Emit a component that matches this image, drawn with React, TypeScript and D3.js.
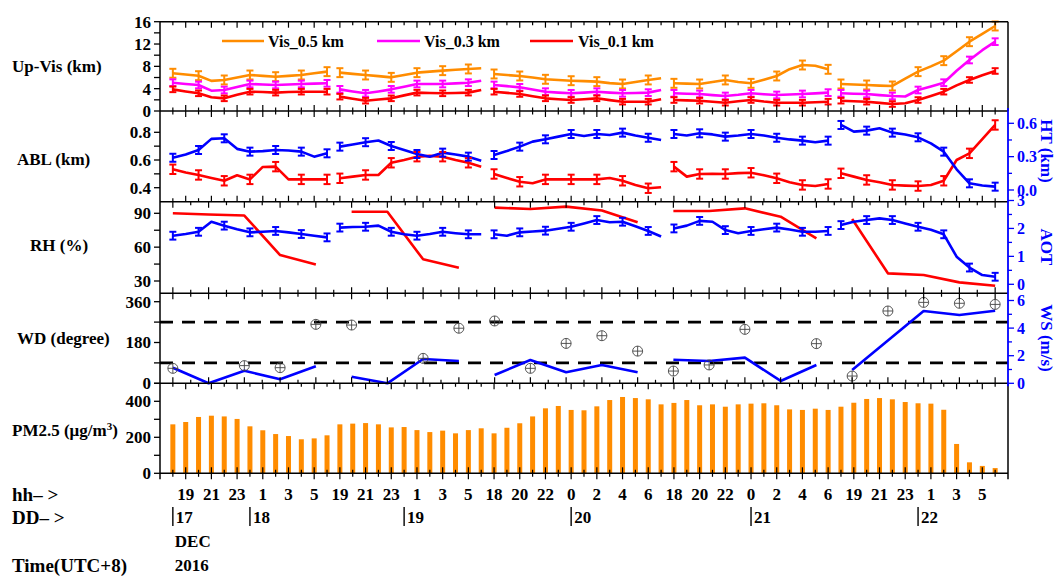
import React from 'react';
import * as d3 from 'd3';

// ---------------- DATA ----------------
// hourly slots 0..64 (five nights)
const nights: [number, number][] = [[0, 12], [13, 24], [25, 38], [39, 51], [52, 64]];
// 3-hourly points 0..23 (RH, WD, WS)
const kNights: [number, number][] = [[0, 4], [5, 8], [9, 13], [14, 18], [19, 23]];

const vis05 = [
  6.76, 6.55, 6.33, 5.4, 5.56, 6.0, 6.45, 6.3, 6.15, 6.3, 6.45, 6.75, 7.05,
  6.87, 6.65, 6.45, 6.25, 6.03, 6.45, 6.87, 7.05, 7.23, 7.4, 7.53, 7.65,
  6.63, 6.45, 6.27, 6.0, 5.68, 5.55, 5.43, 5.35, 5.26, 5.0, 4.84, 5.2, 5.56, 5.86,
  4.96, 4.9, 4.84, 5.2, 5.56, 5.2, 4.96, 5.6, 6.27, 7.5, 8.24, 8.1, 7.47,
  4.84, 4.75, 4.66, 4.55, 4.48, 5.8, 7.05, 8.0, 9.02, 10.7, 12.42, 13.8, 15.23,
];
const vis03 = [
  5.07, 4.85, 4.66, 3.64, 3.76, 4.3, 4.84, 4.75, 4.66, 4.75, 4.84, 4.9, 4.96,
  3.88, 3.5, 3.17, 3.5, 3.88, 4.35, 4.84, 4.84, 4.84, 4.95, 5.07, 5.43,
  4.66, 4.45, 4.24, 3.85, 3.46, 3.3, 3.17, 3.3, 3.46, 3.3, 3.17, 3.23, 3.29, 3.76,
  3.17, 3.1, 3.05, 2.85, 2.69, 2.9, 3.17, 3.0, 2.87, 2.95, 3.05, 3.15, 3.29,
  3.17, 3.1, 3.05, 2.85, 2.69, 2.6, 3.76, 4.4, 5.07, 7.2, 9.14, 10.9, 12.42,
];
const vis01 = [
  3.88, 3.5, 3.17, 2.45, 2.27, 2.9, 3.46, 3.4, 3.29, 3.4, 3.46, 3.46, 3.46,
  2.57, 2.2, 1.85, 2.05, 2.27, 2.8, 3.29, 3.23, 3.17, 3.23, 3.29, 3.76,
  3.46, 3.25, 3.05, 2.65, 2.27, 2.1, 1.97, 2.1, 2.27, 1.95, 1.67, 1.67, 1.67, 2.09,
  1.97, 1.9, 1.85, 1.65, 1.49, 1.75, 1.97, 1.7, 1.49, 1.49, 1.49, 1.58, 1.67,
  1.85, 1.75, 1.67, 1.45, 1.25, 1.4, 1.97, 2.7, 3.46, 4.6, 5.56, 6.4, 7.17,
];
const visErr = [0.8, 0.6, 0.5];

const abl = [
  0.533, 0.51, 0.492, 0.47, 0.45, 0.49, 0.46, 0.55, 0.552, 0.46, 0.46, 0.46, 0.46,
  0.468, 0.48, 0.492, 0.492, 0.58, 0.6, 0.624, 0.63, 0.624, 0.6, 0.58, 0.552,
  0.499, 0.47, 0.443, 0.432, 0.46, 0.46, 0.46, 0.46, 0.46, 0.47, 0.45, 0.42, 0.396, 0.403,
  0.552, 0.48, 0.499, 0.5, 0.499, 0.505, 0.508, 0.49, 0.468, 0.44, 0.42, 0.412, 0.427,
  0.504, 0.48, 0.456, 0.44, 0.42, 0.415, 0.412, 0.42, 0.45, 0.6, 0.648, 0.75, 0.853,
];
const ht = [
  0.29, 0.32, 0.36, 0.46, 0.465, 0.37, 0.345, 0.35, 0.36, 0.355, 0.345, 0.3, 0.33,
  0.39, 0.41, 0.43, 0.445, 0.396, 0.36, 0.324, 0.3, 0.336, 0.32, 0.3, 0.264,
  0.315, 0.35, 0.39, 0.435, 0.456, 0.48, 0.504, 0.486, 0.504, 0.495, 0.516, 0.49, 0.47, 0.45,
  0.504, 0.49, 0.51, 0.5, 0.48, 0.49, 0.504, 0.49, 0.47, 0.455, 0.444, 0.43, 0.444,
  0.585, 0.525, 0.534, 0.555, 0.516, 0.5, 0.474, 0.42, 0.345, 0.186, 0.06, 0.04, 0.03,
];
const ablErr = 0.034;
const htErr = 0.036;

const aot = [
  1.74, 1.8, 1.88, 2.24, 2.1, 1.97, 1.86, 1.88, 1.91, 1.86, 1.8, 1.74, 1.68,
  2.03, 2.05, 2.06, 2.1, 1.88, 1.79, 1.74, 1.8, 1.88, 1.83, 1.79, 1.79,
  1.79, 1.74, 1.86, 1.89, 1.92, 1.99, 2.06, 2.18, 2.3, 2.22, 2.24, 2.08, 1.91, 1.71,
  2.0, 2.1, 2.27, 2.24, 1.94, 1.83, 1.91, 1.97, 2.03, 1.96, 1.88, 1.88, 1.91,
  2.12, 2.24, 2.3, 2.36, 2.3, 2.18, 2.06, 1.95, 1.79, 0.99, 0.6, 0.33, 0.27,
];
const aotErr = 0.14;

const rh = [90, 89, 88, 53, 44.7, 91.4, 91.4, 49.2, 41.7, 95, 93.8, 95.9, 92.5, 82, 92, 92, 94.4, 87, 67.8, 85, 36.8, 35.3, 28.8, 25.8];
const ws = [1.13, 0, 0.91, 0.29, 1.23, 0.48, 0, 1.76, 1.62, 0.6, 1.69, 0.8, 1.33, 0.8, 1.71, 1.62, 1.86, 0.17, 1.33, 0.96, 3.1, 5.24, 4.95, 5.26];
const wd: (number | null)[] = [66, null, 78, 69, 260, 257, null, 110, 243, 275, 66, 176, 210, 142, 54, 81, 238, null, 175, 32, 319, 357, 353, 348];
const wdRefLines = [90, 270];

const pm25 = [
  272, 285, 313, 320, 316, 302, 261, 239, 218, 207, 189, 194, 211,
  272, 276, 279, 272, 255, 257, 240, 229, 237, 222, 240, 250,
  222, 253, 278, 316, 361, 374, 352, 350, 372, 407, 424, 418, 411, 383,
  391, 407, 378, 383, 370, 383, 387, 389, 378, 355, 352, 359, 352,
  370, 392, 413, 418, 411, 396, 389, 387, 353, 163, 61, 41, 29,
];

// labels at odd slots 1,3,...,63
const hourLabels = ['19', '21', '23', '1', '3', '5', '19', '21', '23', '1', '3', '5', '18', '20', '22', '0', '2', '4', '6', '18', '20', '22', '0', '2', '4', '6', '19', '21', '23', '1', '3', '5'];
const daySlots = [0, 6, 18, 31, 45, 58];
const dayLabels = ['17', '18', '19', '20', '21', '22'];

const visTicks = [0, 2, 4, 6, 8, 10, 12, 14, 16];
const visLabels = [0, 4, 8, 12, 16];
const ablTicks = [0.4, 0.5, 0.6, 0.7, 0.8];
const ablLabels = [0.4, 0.6, 0.8];
const htTicks = [0, 0.15, 0.3, 0.45, 0.6];
const htLabels = [0, 0.3, 0.6];
const rhTicks = [30, 45, 60, 75, 90];
const rhLabels = [30, 60, 90];
const aotTicks = [0, 0.5, 1, 1.5, 2, 2.5, 3];
const aotLabels = [0, 1, 2, 3];
const wdTicks = [0, 90, 180, 270, 360];
const wdLabels = [0, 180, 360];
const wsTicks = [0, 1, 2, 3, 4, 5, 6];
const wsLabels = [0, 2, 4, 6];
const pmTicks = [0, 100, 200, 300, 400, 500];
const pmLabels = [0, 200, 400];

// ---------------- LAYOUT ----------------
const W = 1063, H = 577;
const X0 = 160, X1 = 1008;
const P = { vis: [21.7, 111], abl: [111, 201.7], rh: [201.7, 293.3], wd: [293.3, 383.3], pm: [383.3, 473.3] };
const FONT = "'Liberation Serif', 'Times New Roman', serif";
const ORANGE = '#FF8C00', MAGENTA = '#FF00FF', RED = '#FF0000', BLUE = '#0000FF';

const x = d3.scaleLinear().domain([-1, 65]).range([X0, X1]);
const xk = d3.scaleLinear().domain([0, 23]).range([x(0), x(64)]);
const yVis = d3.scaleLinear().domain([0, 16]).range([111, 21.7]);
const yAbl = d3.scaleLinear().domain([0.4, 0.8]).range([187.7, 132.3]);
const yHt = d3.scaleLinear().domain([0, 0.6]).range([190, 123.3]);
const yRh = d3.scaleLinear().domain([30, 90]).range([281, 213.3]);
const yAot = d3.scaleLinear().domain([0, 3]).range([284.3, 200.5]);
const yWd = d3.scaleLinear().domain([0, 360]).range([383.3, 301.7]);
const yWs = d3.scaleLinear().domain([0, 6]).range([383.3, 300.5]);
const yPm = d3.scaleLinear().domain([0, 500]).range([473.3, 383.3]);

function segPaths(vals: number[], xs: (i: number) => number, ys: (v: number) => number, segs: [number, number][]) {
  const line = d3.line<number>().x((i) => xs(i)).y((i) => ys(vals[i]));
  return segs.map(([a, b]) => line(d3.range(a, b + 1)) as string);
}
function errIdx(segs: [number, number][]) {
  const out: number[] = [];
  segs.forEach(([a, b]) => { for (let i = a; i <= b; i += 2) out.push(i); });
  return out;
}
const eIdx = errIdx(nights);

const ErrBars = ({ vals, ys, color, err }: { vals: number[]; ys: d3.ScaleLinear<number, number>; color: string; err: number }) => (
  <g stroke={color} strokeWidth={2}>
    {eIdx.map((i) => {
      const cx = x(i), y1 = ys(vals[i] + err), y2 = ys(vals[i] - err);
      return (
        <g key={i}>
          <line x1={cx} x2={cx} y1={y1} y2={y2} />
          <line x1={cx - 3.5} x2={cx + 3.5} y1={y1} y2={y1} />
          <line x1={cx - 3.5} x2={cx + 3.5} y1={y2} y2={y2} />
        </g>
      );
    })}
  </g>
);

const Series = ({ vals, ys, color, err }: { vals: number[]; ys: d3.ScaleLinear<number, number>; color: string; err: number }) => (
  <g>
    {segPaths(vals, x, ys, nights).map((d, i) => (
      <path key={i} d={d} fill="none" stroke={color} strokeWidth={2.6} strokeLinejoin="round" />
    ))}
    <ErrBars vals={vals} ys={ys} color={color} err={err} />
  </g>
);

const LeftAxis = ({ ticks, labels, ys, fmt }: { ticks: number[]; labels: number[]; ys: d3.ScaleLinear<number, number>; fmt: (v: number) => string }) => (
  <g>
    {ticks.map((t) => (
      <line key={t} x1={X0 - 6} x2={X0} y1={ys(t)} y2={ys(t)} stroke="#000" strokeWidth={1.3} />
    ))}
    {labels.map((t) => (
      <text key={t} x={X0 - 9} y={ys(t)} dy="0.35em" textAnchor="end" fontSize={17} fontWeight="bold" fill="#000">{fmt(t)}</text>
    ))}
  </g>
);
const RightAxis = ({ ticks, labels, ys, fmt }: { ticks: number[]; labels: number[]; ys: d3.ScaleLinear<number, number>; fmt: (v: number) => string }) => (
  <g>
    {ticks.map((t) => (
      <line key={t} x1={X1} x2={X1 + (labels.includes(t) ? 6 : 4)} y1={ys(t)} y2={ys(t)} stroke={BLUE} strokeWidth={1.3} />
    ))}
    {labels.map((t) => (
      <text key={t} x={X1 + 9} y={ys(t)} dy="0.35em" textAnchor="start" fontSize={16} fontWeight="bold" fill={BLUE}>{fmt(t)}</text>
    ))}
  </g>
);

// inward ticks along horizontal borders
const slotTicks = d3.range(0, 65);
const kTicks = d3.range(0, 23.01, 0.5);
const HTicks = ({ y, dir, scale, vals, isMajor }: { y: number; dir: number; scale: (v: number) => number; vals: number[]; isMajor: (v: number) => boolean }) => (
  <g stroke="#000" strokeWidth={1.2}>
    {vals.map((v) => (
      <line key={v} x1={scale(v)} x2={scale(v)} y1={y} y2={y + dir * (isMajor(v) ? 6 : 3.5)} />
    ))}
  </g>
);
const oddMajor = (v: number) => v % 2 === 1;
const intMajor = (v: number) => Math.abs(v - Math.round(v)) < 1e-6;

const LeftTitle = ({ y, x0, children }: { y: number; x0: number; children: React.ReactNode }) => (
  <text x={x0} y={y} dy="0.35em" fontSize={17} fontWeight="bold" fill="#000">{children}</text>
);
const RightTitle = ({ y, children }: { y: number; children: React.ReactNode }) => (
  <text transform={`translate(1047,${y}) rotate(90)`} textAnchor="middle" dy="0.35em" fontSize={17} fontWeight="bold" fill={BLUE}>{children}</text>
);

export default function App() {
  const f0 = (v: number) => String(v);
  const f1 = (v: number) => v.toFixed(1);
  const rhPaths = segPaths(rh, xk, yRh, kNights);
  const wsPaths = segPaths(ws, xk, yWs, kNights);
  const ablPaths = segPaths(abl, x, yAbl, nights);
  const htPaths = segPaths(ht, x, yHt, nights);
  const aotPaths = segPaths(aot, x, yAot, nights);
  const bw = 5;
  return (
    <div style={{ position: 'absolute', left: 0, top: 0 }}>
      <svg width={W} height={H} style={{ display: 'block', background: '#fff', fontFamily: FONT }}>
        {/* ---------- PM2.5 bars ---------- */}
        {pm25.map((v, i) => (
          <rect key={i} x={x(i) - bw / 2} y={yPm(v)} width={bw} height={yPm(0) - yPm(v)} fill={ORANGE} />
        ))}

        {/* ---------- Vis ---------- */}
        <Series vals={vis05} ys={yVis} color={ORANGE} err={visErr[0]} />
        <Series vals={vis03} ys={yVis} color={MAGENTA} err={visErr[1]} />
        <Series vals={vis01} ys={yVis} color={RED} err={visErr[2]} />
        {/* legend */}
        <g fontSize={16} fontWeight="bold">
          <line x1={222} x2={264} y1={41} y2={41} stroke={ORANGE} strokeWidth={2.6} />
          <text x={268} y={41} dy="0.35em">Vis_0.5 km</text>
          <line x1={377} x2={420} y1={41} y2={41} stroke={MAGENTA} strokeWidth={2.6} />
          <text x={424} y={41} dy="0.35em">Vis_0.3 km</text>
          <line x1={530} x2={573} y1={41} y2={41} stroke={RED} strokeWidth={2.6} />
          <text x={578} y={41} dy="0.35em">Vis_0.1 km</text>
        </g>

        {/* ---------- ABL / HT ---------- */}
        {ablPaths.map((d, i) => <path key={'a' + i} d={d} fill="none" stroke={RED} strokeWidth={2.6} strokeLinejoin="round" />)}
        {htPaths.map((d, i) => <path key={'h' + i} d={d} fill="none" stroke={BLUE} strokeWidth={2.6} strokeLinejoin="round" />)}
        <ErrBars vals={abl} ys={yAbl} color={RED} err={ablErr} />
        <ErrBars vals={ht} ys={yHt} color={BLUE} err={htErr} />

        {/* ---------- RH / AOT ---------- */}
        {rhPaths.map((d, i) => <path key={'r' + i} d={d} fill="none" stroke={RED} strokeWidth={2.6} strokeLinejoin="round" />)}
        {aotPaths.map((d, i) => <path key={'o' + i} d={d} fill="none" stroke={BLUE} strokeWidth={2.6} strokeLinejoin="round" />)}
        <ErrBars vals={aot} ys={yAot} color={BLUE} err={aotErr} />

        {/* ---------- WD / WS ---------- */}
        {wdRefLines.map((v) => (
          <line key={v} x1={X0} x2={X1} y1={yWd(v)} y2={yWd(v)} stroke="#000" strokeWidth={2.6} strokeDasharray="13 9" />
        ))}
        {wsPaths.map((d, i) => <path key={'w' + i} d={d} fill="none" stroke={BLUE} strokeWidth={2.6} strokeLinejoin="round" />)}
        {wd.map((v, i) => v == null ? null : (
          <g key={'wd' + i} stroke="#444" strokeWidth={0.9} fill="none">
            <circle cx={xk(i)} cy={yWd(v)} r={5} />
            <line x1={xk(i) - 5} x2={xk(i) + 5} y1={yWd(v)} y2={yWd(v)} />
            <line x1={xk(i)} x2={xk(i)} y1={yWd(v) - 5} y2={yWd(v) + 5} />
          </g>
        ))}

        {/* ---------- frames & ticks ---------- */}
        <HTicks y={P.vis[0]} dir={1} scale={x} vals={slotTicks} isMajor={oddMajor} />
        <HTicks y={P.vis[1]} dir={-1} scale={x} vals={slotTicks} isMajor={oddMajor} />
        <HTicks y={P.abl[0]} dir={1} scale={x} vals={slotTicks} isMajor={oddMajor} />
        <HTicks y={P.abl[1]} dir={-1} scale={x} vals={slotTicks} isMajor={oddMajor} />
        <HTicks y={P.rh[0]} dir={1} scale={xk} vals={kTicks} isMajor={intMajor} />
        <HTicks y={P.rh[1]} dir={-1} scale={xk} vals={kTicks} isMajor={intMajor} />
        <HTicks y={P.wd[0]} dir={1} scale={xk} vals={kTicks} isMajor={intMajor} />
        <HTicks y={P.wd[1]} dir={-1} scale={xk} vals={kTicks} isMajor={intMajor} />
        <HTicks y={P.pm[0]} dir={1} scale={x} vals={slotTicks} isMajor={oddMajor} />
        {/* bottom axis crossing ticks */}
        <HTicks y={P.pm[1]} dir={-1} scale={x} vals={slotTicks} isMajor={oddMajor} />
        <HTicks y={P.pm[1]} dir={1} scale={x} vals={slotTicks} isMajor={oddMajor} />

        <g stroke="#000" strokeWidth={1.5} fill="none">
          <line x1={X0} x2={X1} y1={P.vis[0]} y2={P.vis[0]} />
          <line x1={X0} x2={X1} y1={P.abl[0]} y2={P.abl[0]} />
          <line x1={X0} x2={X1} y1={P.rh[0]} y2={P.rh[0]} />
          <line x1={X0} x2={X1} y1={P.wd[0]} y2={P.wd[0]} />
          <line x1={X0} x2={X1} y1={P.pm[0]} y2={P.pm[0]} />
          <line x1={X0} x2={X1} y1={P.pm[1]} y2={P.pm[1]} />
          <line x1={X0} x2={X0} y1={P.vis[0]} y2={P.pm[1] + 6} />
          <line x1={X1} x2={X1} y1={P.vis[0]} y2={P.abl[0]} />
          <line x1={X1} x2={X1} y1={P.pm[0]} y2={P.pm[1] + 6} />
        </g>
        <line x1={X1} x2={X1} y1={P.abl[0] - 3} y2={P.wd[1] + 3} stroke={BLUE} strokeWidth={1.8} />

        {/* left axes */}
        <LeftAxis ticks={visTicks} labels={visLabels} ys={yVis} fmt={f0} />
        <LeftAxis ticks={ablTicks} labels={ablLabels} ys={yAbl} fmt={f1} />
        <LeftAxis ticks={rhTicks} labels={rhLabels} ys={yRh} fmt={f0} />
        <LeftAxis ticks={wdTicks} labels={wdLabels} ys={yWd} fmt={f0} />
        <LeftAxis ticks={pmTicks} labels={pmLabels} ys={yPm} fmt={f0} />
        {/* right axes */}
        <RightAxis ticks={htTicks} labels={htLabels} ys={yHt} fmt={f1} />
        <RightAxis ticks={aotTicks} labels={aotLabels} ys={yAot} fmt={f0} />
        <RightAxis ticks={wsTicks} labels={wsLabels} ys={yWs} fmt={f0} />

        {/* titles */}
        <LeftTitle x0={12} y={66}>Up-Vis (km)</LeftTitle>
        <LeftTitle x0={17} y={159}>ABL (km)</LeftTitle>
        <LeftTitle x0={30} y={245}>RH (%)</LeftTitle>
        <LeftTitle x0={17} y={338}>WD (degree)</LeftTitle>
        <text x={12} y={430} dy="0.35em" fontSize={17} fontWeight="bold">PM2.5 (μg/m<tspan dy="-6" fontSize={11}>3</tspan><tspan dy="6">)</tspan></text>
        <RightTitle y={151}>HT (km)</RightTitle>
        <RightTitle y={247}>AOT</RightTitle>
        <RightTitle y={338}>WS (m/s)</RightTitle>

        {/* bottom labels */}
        <g fontSize={17} fontWeight="bold" fill="#000">
          {hourLabels.map((t, j) => (
            <text key={j} x={x(2 * j + 1)} y={494} dy="0.35em" textAnchor="middle">{t}</text>
          ))}
          {daySlots.map((s, j) => (
            <g key={'d' + j}>
              <line x1={x(s)} x2={x(s)} y1={507} y2={526} stroke="#000" strokeWidth={1.4} />
              <text x={x(s) + 3} y={517} dy="0.35em">{dayLabels[j]}</text>
            </g>
          ))}
          <text x={x(0) + 2} y={541} dy="0.35em">DEC</text>
          <text x={x(0) + 2} y={565} dy="0.35em">2016</text>
        </g>
        <g fontSize={19} fontWeight="bold" fill="#000">
          <text x={12} y={494} dy="0.35em">hh– &gt;</text>
          <text x={12} y={517} dy="0.35em">DD– &gt;</text>
          <text x={12} y={565} dy="0.35em">Time(UTC+8)</text>
        </g>
      </svg>
    </div>
  );
}
